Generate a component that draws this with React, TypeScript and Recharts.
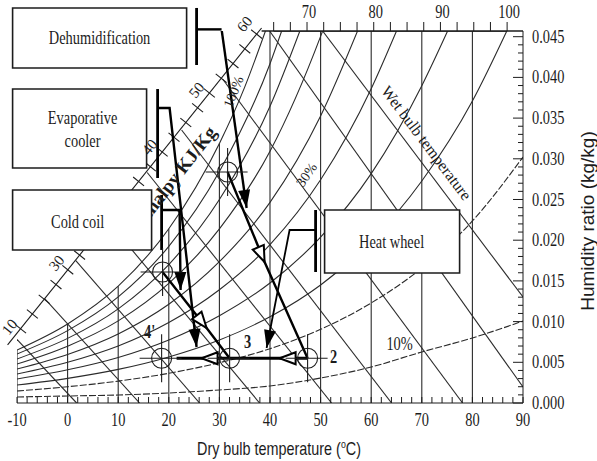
import {
  ComposedChart, Line, Scatter, XAxis, YAxis,
  ReferenceLine, ReferenceArea, ReferenceDot,
} from 'recharts';

type Pt = { T: number; w: number };

// relative humidity curves (dry bulb °C, humidity ratio kg/kg)
const rh100: Pt[] = [
  { T: -10, w: 0.00651 }, { T: 0, w: 0.00971 }, { T: 10, w: 0.01435 }, { T: 20, w: 0.0214 },
  { T: 30, w: 0.03189 }, { T: 35, w: 0.03881 }, { T: 39.1, w: 0.0457 },
];
const rh90: Pt[] = [
  { T: -10, w: 0.00602 }, { T: 0, w: 0.00889 }, { T: 10, w: 0.01303 }, { T: 20, w: 0.01925 },
  { T: 30, w: 0.02844 }, { T: 40, w: 0.04168 }, { T: 42.3, w: 0.0457 },
];
const rh80: Pt[] = [
  { T: -10, w: 0.00541 }, { T: 0, w: 0.00794 }, { T: 10, w: 0.01157 }, { T: 20, w: 0.01701 },
  { T: 30, w: 0.025 }, { T: 40, w: 0.03645 }, { T: 45.9, w: 0.0457 },
];
const rh70: Pt[] = [
  { T: -10, w: 0.00479 }, { T: 0, w: 0.00698 }, { T: 10, w: 0.01009 }, { T: 20, w: 0.01469 },
  { T: 30, w: 0.02139 }, { T: 40, w: 0.03092 }, { T: 50, w: 0.04504 }, { T: 50.4, w: 0.0457 },
];
const rh60: Pt[] = [
  { T: -10, w: 0.00418 }, { T: 0, w: 0.00597 }, { T: 10, w: 0.00849 }, { T: 20, w: 0.01214 },
  { T: 30, w: 0.01736 }, { T: 40, w: 0.02464 }, { T: 50, w: 0.03526 }, { T: 57.3, w: 0.0457 },
];
const rh50: Pt[] = [
  { T: -10, w: 0.00356 }, { T: 0, w: 0.00501 }, { T: 10, w: 0.00701 }, { T: 20, w: 0.00989 },
  { T: 30, w: 0.01392 }, { T: 40, w: 0.01947 }, { T: 50, w: 0.02743 }, { T: 60, w: 0.03861 },
  { T: 65, w: 0.0457 },
];
const rh40: Pt[] = [
  { T: -10, w: 0.00295 }, { T: 0, w: 0.00408 }, { T: 10, w: 0.0056 }, { T: 20, w: 0.00775 },
  { T: 30, w: 0.01072 }, { T: 40, w: 0.01474 }, { T: 50, w: 0.02038 }, { T: 60, w: 0.02818 },
  { T: 70, w: 0.03898 }, { T: 75.1, w: 0.0457 },
];
const rh30: Pt[] = [
  { T: -10, w: 0.00221 }, { T: 0, w: 0.00303 }, { T: 10, w: 0.00413 }, { T: 20, w: 0.00566 },
  { T: 30, w: 0.00774 }, { T: 40, w: 0.01059 }, { T: 50, w: 0.0145 }, { T: 60, w: 0.0199 },
  { T: 70, w: 0.02727 }, { T: 80, w: 0.0371 }, { T: 86.8, w: 0.0457 },
];
const rh20: Pt[] = [
  { T: -10, w: 0.00147 }, { T: 0, w: 0.002 }, { T: 10, w: 0.00269 }, { T: 20, w: 0.00365 },
  { T: 30, w: 0.00495 }, { T: 40, w: 0.00667 }, { T: 50, w: 0.00905 }, { T: 60, w: 0.01229 },
  { T: 70, w: 0.01658 }, { T: 80, w: 0.02236 }, { T: 90, w: 0.03022 },
];
const rh10: Pt[] = [
  { T: -10, w: 0.00074 }, { T: 0, w: 0.00086 }, { T: 10, w: 0.00098 }, { T: 20, w: 0.00123 },
  { T: 30, w: 0.0016 }, { T: 40, w: 0.00209 }, { T: 50, w: 0.00307 }, { T: 60, w: 0.00442 },
  { T: 70, w: 0.00627 }, { T: 80, w: 0.00799 }, { T: 90, w: 0.01007 },
];
const rhCurves = [rh100, rh90, rh80, rh70, rh60, rh50, rh40, rh30, rh20, rh10];

// dry bulb verticals and where each one stops
const dryBulbTemps = [0, 10, 20, 30, 40, 50, 60, 70, 80];
const dryBulbTops = [0.00971, 0.01435, 0.0214, 0.03189, 0.0457, 0.0457, 0.0457, 0.0457, 0.0457];

// constant enthalpy (wet bulb) lines, start and end
const enthalpyLines: Pt[][] = [
  [{ T: -10, w: 0.00781 }, { T: 1.78, w: 0 }],
  [{ T: -4.49, w: 0.0128 }, { T: 14.23, w: 0 }],
  [{ T: 1.62, w: 0.01749 }, { T: 26.09, w: 0 }],
  [{ T: 7.96, w: 0.02236 }, { T: 37.94, w: 0 }],
  [{ T: 15.73, w: 0.02832 }, { T: 52.17, w: 0 }],
  [{ T: 22.53, w: 0.03354 }, { T: 64.03, w: 0 }],
  [{ T: 30.63, w: 0.0398 }, { T: 78.06, w: 0 }],
  [{ T: 39.92, w: 0.0457 }, { T: 90, w: 0.00197 }],
  [{ T: 50.4, w: 0.0457 }, { T: 90, w: 0.01302 }],
];

// enthalpy scale (kJ/kg) along the diagonal, and along the top
const enthalpyScale = [{ T: -11.86, w: 0.00713 }, { T: 38.34, w: 0.04607 }];
const enthalpyTicks = [10, 12.5, 15, 17.5, 20, 22.5, 25, 27.5, 30, 32.5, 35, 37.5, 40, 42.5, 45, 47.5, 50, 52.5, 55, 57.5, 60];
const topTicks = [65, 67.5, 70, 72.5, 75, 77.5, 80, 82.5, 85, 87.5, 90, 92.5, 95, 97.5, 100];

const xTicks = [-10, -8, -6, -4, -2, 0, 2, 4, 6, 8, 10, 12, 14, 16, 18, 20, 22, 24, 26, 28, 30, 32, 34, 36, 38, 40,
  42, 44, 46, 48, 50, 52, 54, 56, 58, 60, 62, 64, 66, 68, 70, 72, 74, 76, 78, 80, 82, 84, 86, 88, 90];
const yTicks = [0, 0.001, 0.002, 0.003, 0.004, 0.005, 0.006, 0.007, 0.008, 0.009, 0.01, 0.011, 0.012, 0.013, 0.014,
  0.015, 0.016, 0.017, 0.018, 0.019, 0.02, 0.021, 0.022, 0.023, 0.024, 0.025, 0.026, 0.027, 0.028, 0.029, 0.03,
  0.031, 0.032, 0.033, 0.034, 0.035, 0.036, 0.037, 0.038, 0.039, 0.04, 0.041, 0.042, 0.043, 0.044, 0.045];

// process lines
const dehumLine: Pt[] = [{ T: 30.43, w: 0.0459 }, { T: 35.38, w: 0.02396 }];
const evapBar: Pt[] = [{ T: 17.79, w: 0.03857 }, { T: 17.79, w: 0.02764 }];
const evapLine: Pt[] = [{ T: 17.79, w: 0.03624 }, { T: 20.16, w: 0.03624 }, { T: 25.49, w: 0.00688 }];
const coldCoilBar: Pt[] = [{ T: 18.58, w: 0.02555 }, { T: 18.58, w: 0.0188 }];
const coldCoilLine: Pt[] = [{ T: 18.58, w: 0.02371 }, { T: 22.13, w: 0.02371 }, { T: 22.33, w: 0.01388 }];
const heatWheelBar: Pt[] = [{ T: 49.01, w: 0.02371 }, { T: 49.01, w: 0.01609 }];
const heatWheelLine: Pt[] = [{ T: 49.01, w: 0.02125 }, { T: 43.87, w: 0.02125 }, { T: 39.33, w: 0.00676 }];
const line1to2: Pt[] = [{ T: 31.62, w: 0.02838 }, { T: 38.93, w: 0.01732 }, { T: 47.43, w: 0.0055 }];
const lineCoilTo3: Pt[] = [{ T: 18.77, w: 0.01609 }, { T: 27.47, w: 0.00921 }, { T: 32.02, w: 0.0055 }];
const line2to4: Pt[] = [{ T: 47.43, w: 0.0055 }, { T: 41.9, w: 0.0055 }, { T: 26.48, w: 0.0055 }, { T: 21.54, w: 0.0055 }];
const statePoints: Pt[] = [
  { T: 31.62, w: 0.02838 }, { T: 18.77, w: 0.01609 }, { T: 18.58, w: 0.0055 },
  { T: 32.02, w: 0.0055 }, { T: 47.43, w: 0.0055 },
];

const SERIF = "'Liberation Serif', 'Times New Roman', serif";
const SANS = "'Liberation Sans', Arial, sans-serif";
const INK = '#1c1c1c';

function Note({ cx = 0, cy = 0, text, size = 18, rot = 0, sx = 0.8, bold = false, anchor = 'middle' }: any) {
  return (
    <text
      transform={`translate(${cx},${cy}) rotate(${rot}) scale(${sx},1)`}
      textAnchor={anchor}
      dominantBaseline="central"
      fontFamily={SERIF}
      fontSize={size}
      fontWeight={bold ? 700 : 400}
      fill={INK}
    >
      {text}
    </text>
  );
}

const note = (T: number, w: number, text: string, opts: any = {}, z = 1200) => (
  <ReferenceDot
    key={`${text}-${T}`}
    x={T}
    y={w}
    r={1}
    fill="none"
    stroke="none"
    ifOverflow="visible"
    zIndex={z}
    shape={(p: any) => <Note cx={p.cx} cy={p.cy} text={text} {...opts} />}
  />
);

function XTick({ x, y, payload }: any) {
  const v = payload.value;
  return (
    <g>
      <line x1={x} y1={y} x2={x} y2={y - 6} stroke={INK} />
      {v % 10 === 0 && <Note cx={x} cy={y + 17} text={String(v)} />}
    </g>
  );
}

function YTick({ x, y, payload }: any) {
  const v = payload.value;
  const major = Math.round(v * 1000) % 5 === 0;
  return (
    <g>
      <line x1={x} y1={y} x2={x - (major ? 10 : 5)} y2={y} stroke={INK} />
      {major && <Note cx={x + 9} cy={y} text={v.toFixed(3)} anchor="start" />}
    </g>
  );
}

function TopTick({ x, y, payload }: any) {
  const v = payload.value;
  return (
    <g>
      <line x1={x} y1={y} x2={x} y2={y - 9} stroke={INK} />
      {v % 10 === 0 && <Note cx={x + 2} cy={y - 19} text={String(v)} />}
    </g>
  );
}

const XTitle = ({ viewBox }: any) => (
  <text transform={`translate(${viewBox.x + 262},${viewBox.y + 52}) scale(0.8,1)`} textAnchor="middle"
    fontFamily={SANS} fontSize={18} fill={INK}>
    <tspan>Dry bulb temperature (</tspan>
    <tspan dy={-7} fontSize={11}>o</tspan>
    <tspan dy={7}>C)</tspan>
  </text>
);

const YTitle = ({ viewBox }: any) => (
  <text transform={`translate(${viewBox.x + 64},${viewBox.y + 190}) rotate(-90)`} textAnchor="middle"
    dominantBaseline="central" fontFamily={SANS} fontSize={19} fill={INK}>
    Humidity ratio (kg/kg)
  </text>
);

function StateMark({ cx, cy }: any) {
  return (
    <g stroke={INK} strokeWidth={1.1} fill="none">
      <circle cx={cx} cy={cy} r={10} />
      <line x1={cx - 22} y1={cy} x2={cx + 20} y2={cy} />
      <line x1={cx} y1={cy - 24} x2={cx} y2={cy + 24} />
    </g>
  );
}

// enthalpy scale tick marks, placed along the diagonal scale line
const scaleA = { h: 10, T: -9.29, w: 0.00912 };
const scaleB = { h: 60, T: 37.35, w: 0.04532 };
const scaleTickSegs = enthalpyTicks.map((h) => {
  const f = (h - scaleA.h) / (scaleB.h - scaleA.h);
  const T = scaleA.T + f * (scaleB.T - scaleA.T);
  const w = scaleA.w + f * (scaleB.w - scaleA.w);
  return [{ x: T - 1.08, y: w + 0.00054 }, { x: T + 1.08, y: w - 0.00054 }];
});
// enthalpy values sitting on the top edge, carried by the top axis
const topScale = topTicks.map((h) => ({ h, w: 0.0457 }));

const gridLine = { stroke: '#2b2b2b', strokeWidth: 1.1, dot: false, activeDot: false, isAnimationActive: false };
const procLine = { stroke: '#000', strokeWidth: 2.4, dot: false, activeDot: false, isAnimationActive: false, type: 'linear' as const };

export default function App() {
  return (
    <div style={{ position: 'absolute', left: 0, top: 0, width: 597, height: 461, background: '#fff' }}>
      <svg width={0} height={0} style={{ position: 'absolute' }}>
        <defs>
          <marker id="arrFill" markerUnits="userSpaceOnUse" markerWidth={20} markerHeight={14}
            viewBox="0 0 20 14" refX={19} refY={7} orient="auto">
            <path d="M1,1 L19,7 L1,13 Z" fill="#000" />
          </marker>
          <marker id="arrOpen" markerUnits="userSpaceOnUse" markerWidth={20} markerHeight={16}
            viewBox="0 0 20 16" refX={18} refY={8} orient="auto">
            <path d="M2,2 L18,8 L2,14 Z" fill="#fff" stroke="#000" strokeWidth={2} />
          </marker>
        </defs>
      </svg>
      <ComposedChart width={597} height={461} margin={{ top: 0, right: 0, bottom: 0, left: 17 }}>
        <XAxis type="number" dataKey="T" domain={[-10, 90]} allowDataOverflow ticks={xTicks} interval={0}
          tickSize={0} tickMargin={0} tickLine={false} tick={XTick} height={58} stroke={INK}
          label={{ content: XTitle }} />
        <XAxis xAxisId="top" orientation="top" type="number" dataKey="h" domain={[26.52, 102.38]} allowDataOverflow
          ticks={topTicks} interval={0} tickSize={0} tickMargin={0} tickLine={false} axisLine={false}
          tick={TopTick} height={31} />
        <YAxis orientation="right" type="number" dataKey="w" domain={[0, 0.0457]} allowDataOverflow
          ticks={yTicks} interval={0} tickSize={0} tickMargin={0} tickLine={false} tick={YTick} width={74}
          stroke={INK} label={{ content: YTitle }} />

        {dryBulbTemps.map((T, i) => (
          <Line key={`db${T}`} data={[{ T, w: 0 }, { T, w: dryBulbTops[i] }]} dataKey="w" type="linear" {...gridLine} />
        ))}
        <Line data={[{ T: -10, w: 0 }, { T: -10, w: 0.00651 }]} dataKey="w" type="linear" {...gridLine} />
        {enthalpyLines.map((seg, i) => (
          <Line key={`en${i}`} data={seg} dataKey="w" type="linear" {...gridLine} />
        ))}
        {rhCurves.map((c, i) => (
          <Line key={`rh${i}`} data={c} dataKey="w" type="monotone" {...gridLine}
            strokeDasharray={i >= 8 ? '7 2' : undefined} />
        ))}
        <Line xAxisId="top" data={topScale} dataKey="w" type="linear" {...gridLine} stroke={INK} strokeWidth={1.3} />

        <ReferenceLine segment={[{ x: 38.34, y: 0.0457 }, { x: 90, y: 0.0457 }]} stroke={INK} strokeWidth={1.3} ifOverflow="visible" />
        <ReferenceLine segment={enthalpyScale.map((p) => ({ x: p.T, y: p.w }))} stroke={INK} strokeWidth={1.1} ifOverflow="visible" />
        {scaleTickSegs.map((s, i) => (
          <ReferenceLine key={`st${i}`} segment={s} stroke={INK} strokeWidth={1.1} ifOverflow="visible" />
        ))}

        {/* processes */}
        <ReferenceLine segment={[{ x: 25.49, y: 0.04853 }, { x: 25.49, y: 0.04152 }]} stroke="#000" strokeWidth={2.8} ifOverflow="visible" />
        <ReferenceLine segment={[{ x: 25.49, y: 0.0459 }, { x: 30.43, y: 0.0459 }]} stroke="#000" strokeWidth={2.4} ifOverflow="visible" />
        <Line data={dehumLine} dataKey="w" {...procLine} markerEnd="url(#arrFill)" />
        <Line data={evapBar} dataKey="w" {...procLine} strokeWidth={2.8} />
        <Line data={evapLine} dataKey="w" {...procLine} markerEnd="url(#arrFill)" />
        <Line data={coldCoilBar} dataKey="w" {...procLine} strokeWidth={2.8} />
        <Line data={coldCoilLine} dataKey="w" {...procLine} markerEnd="url(#arrFill)" />
        <Line data={heatWheelBar} dataKey="w" {...procLine} strokeWidth={2.8} />
        <Line data={heatWheelLine} dataKey="w" {...procLine} strokeWidth={1.8} markerEnd="url(#arrFill)" />
        <Line data={line1to2} dataKey="w" {...procLine} markerMid="url(#arrOpen)" />
        <Line data={lineCoilTo3} dataKey="w" {...procLine} markerMid="url(#arrOpen)" />
        <Line data={line2to4} dataKey="w" {...procLine} strokeWidth={2.8} markerMid="url(#arrOpen)" />
        <Scatter data={statePoints} dataKey="w" shape={StateMark} isAnimationActive={false} />

        {/* axis caption running under the boxes */}
        {note(28.6, 0.03372, 'Enthalpy KJ/Kg', { size: 19, rot: -52, sx: 1, bold: true, anchor: 'end' }, 900)}

        {/* boxes */}
        <ReferenceArea x1={-10.87} x2={23.52} y1={0.04115} y2={0.04853} ifOverflow="visible" fill="#fff" fillOpacity={1} stroke={INK} strokeWidth={1.6} zIndex={1000} />
        <ReferenceArea x1={-10.87} x2={15.61} y1={0.02887} y2={0.03857} ifOverflow="visible" fill="#fff" fillOpacity={1} stroke={INK} strokeWidth={1.6} zIndex={1000} />
        <ReferenceArea x1={-10.87} x2={16.6} y1={0.0188} y2={0.02617} ifOverflow="visible" fill="#fff" fillOpacity={1} stroke={INK} strokeWidth={1.6} zIndex={1000} />
        <ReferenceArea x1={50.79} x2={77.47} y1={0.01597} y2={0.02371} ifOverflow="visible" fill="#fff" fillOpacity={1} stroke={INK} strokeWidth={1.6} zIndex={1000} />

        {note(6.32, 0.04484, 'Dehumidification')}
        {note(2.96, 0.03501, 'Evaporative')}
        {note(2.96, 0.03219, 'cooler')}
        {note(1.98, 0.02224, 'Cold coil')}
        {note(64.03, 0.01978, 'Heat wheel')}
        {note(70.95, 0.03194, 'Wet bulb temperature', { size: 16, rot: 53, sx: 1 })}
        {note(32.81, 0.03821, '100%', { size: 14, rot: -68, sx: 1 })}
        {note(47.23, 0.02801, '30%', { size: 14, rot: -55, sx: 1 })}
        {note(65.61, 0.00725, '10%')}
        {note(35.57, 0.00749, '3', { bold: true })}
        {note(52.57, 0.00565, '2', { bold: true })}
        {note(16.21, 0.00872, "4'", { bold: true })}
        {note(-11.46, 0.00934, '10', { size: 15, rot: -51, sx: 1 })}
        {note(-2.17, 0.0172, '30', { size: 15, rot: -51, sx: 1 })}
        {note(16.21, 0.03145, '40', { size: 15, rot: -51, sx: 1 })}
        {note(25.49, 0.03845, '50', { size: 15, rot: -51, sx: 1 })}
        {note(34.98, 0.04656, '60', { size: 15, rot: -51, sx: 1 })}
      </ComposedChart>
    </div>
  );
}
